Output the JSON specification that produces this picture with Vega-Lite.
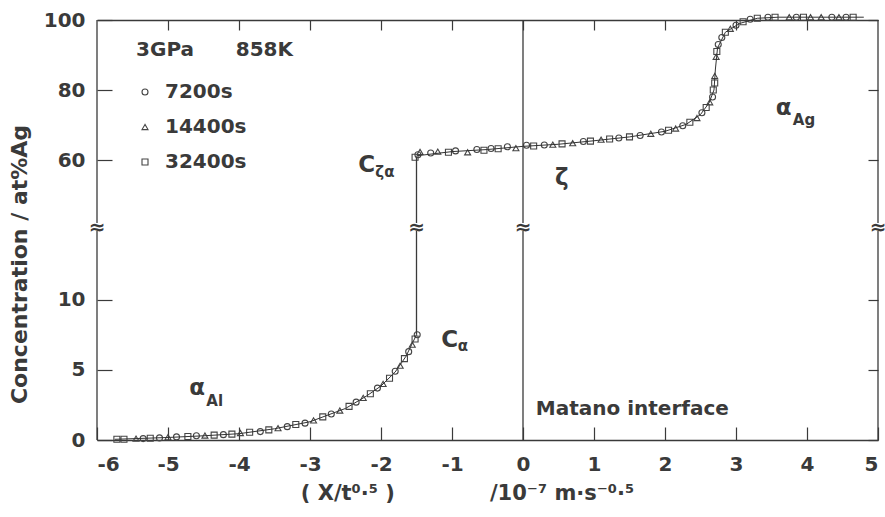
{
  "$schema": "https://vega.github.io/schema/vega-lite/v6.json",
  "width": 781,
  "height": 420,
  "autosize": {"type": "none"},
  "padding": {"left": 97, "top": 20, "right": 7, "bottom": 77},
  "background": "white",
  "config": {
    "view": {"stroke": null},
    "font": "DejaVu Sans",
    "axis": {
      "grid": false,
      "labelFont": "DejaVu Sans",
      "labelFontWeight": "bold",
      "labelFontSize": 20,
      "labelColor": "#3a3a3a",
      "tickColor": "#3a3a3a",
      "domainColor": "#3a3a3a",
      "tickWidth": 1.2,
      "domainWidth": 1.4,
      "titleFont": "DejaVu Sans",
      "titleFontWeight": "bold",
      "titleFontSize": 20,
      "titleColor": "#3a3a3a"
    },
    "legend": {
      "orient": "none",
      "legendX": 38,
      "legendY": 62,
      "labelFont": "DejaVu Sans",
      "labelFontWeight": "bold",
      "labelFontSize": 20,
      "labelColor": "#3a3a3a",
      "rowPadding": 15,
      "symbolSize": 36,
      "symbolStrokeWidth": 1.1,
      "symbolStrokeColor": "#444444",
      "symbolFillColor": "transparent",
      "labelOffset": 10
    }
  },
  "datasets": {
    "rules": [
      {"x": -6, "c": 0, "c2": 14.9},
      {"x": -6, "c": 42, "c2": 100},
      {"x": 5, "c": 0, "c2": 14.9},
      {"x": 5, "c": 42, "c2": 100},
      {"x": 0, "c": 0, "c2": 14.9},
      {"x": 0, "c": 42, "c2": 100},
      {"x": -1.5, "c": 7.5, "c2": 14.9},
      {"x": -1.5, "c": 42, "c2": 61}
    ],
    "breaks": [
      {"x": -6, "c": 28.45},
      {"x": -1.5, "c": 28.45},
      {"x": 0, "c": 28.45},
      {"x": 5, "c": 28.45}
    ],
    "curve": [
      {"x": -5.75, "c": 0.05, "seg": "a"},
      {"x": -5.0, "c": 0.18, "seg": "a"},
      {"x": -4.5, "c": 0.3, "seg": "a"},
      {"x": -4.0, "c": 0.45, "seg": "a"},
      {"x": -3.5, "c": 0.8, "seg": "a"},
      {"x": -3.0, "c": 1.3, "seg": "a"},
      {"x": -2.5, "c": 2.25, "seg": "a"},
      {"x": -2.2, "c": 3.15, "seg": "a"},
      {"x": -2.0, "c": 3.85, "seg": "a"},
      {"x": -1.8, "c": 4.85, "seg": "a"},
      {"x": -1.65, "c": 5.95, "seg": "a"},
      {"x": -1.5, "c": 7.5, "seg": "a"},
      {"x": -1.5, "c": 61.2, "seg": "b"},
      {"x": -1.0, "c": 62.4, "seg": "b"},
      {"x": -0.5, "c": 63.0, "seg": "b"},
      {"x": 0.0, "c": 63.9, "seg": "b"},
      {"x": 0.5, "c": 64.5, "seg": "b"},
      {"x": 1.0, "c": 65.5, "seg": "b"},
      {"x": 1.5, "c": 66.6, "seg": "b"},
      {"x": 2.0, "c": 68.2, "seg": "b"},
      {"x": 2.3, "c": 70.2, "seg": "b"},
      {"x": 2.5, "c": 73.0, "seg": "b"},
      {"x": 2.62, "c": 76.3, "seg": "b"},
      {"x": 2.69, "c": 80.0, "seg": "b"},
      {"x": 2.71, "c": 86.0, "seg": "b"},
      {"x": 2.74, "c": 92.0, "seg": "b"},
      {"x": 2.85, "c": 96.5, "seg": "b"},
      {"x": 3.05, "c": 99.0, "seg": "b"},
      {"x": 3.3, "c": 100.5, "seg": "b"},
      {"x": 3.6, "c": 100.8, "seg": "b"},
      {"x": 4.8, "c": 100.8, "seg": "b"}
    ],
    "points": [
      {"x": -5.72, "c": 0.05, "series": "32400s"},
      {"x": -5.62, "c": 0.05, "series": "32400s"},
      {"x": -5.45, "c": 0.1, "series": "14400s"},
      {"x": -5.35, "c": 0.1, "series": "7200s"},
      {"x": -5.25, "c": 0.12, "series": "32400s"},
      {"x": -5.12, "c": 0.15, "series": "7200s"},
      {"x": -5.0, "c": 0.2, "series": "14400s"},
      {"x": -4.88, "c": 0.22, "series": "7200s"},
      {"x": -4.72, "c": 0.25, "series": "32400s"},
      {"x": -4.6, "c": 0.3, "series": "7200s"},
      {"x": -4.48, "c": 0.32, "series": "14400s"},
      {"x": -4.35, "c": 0.35, "series": "32400s"},
      {"x": -4.22, "c": 0.38, "series": "7200s"},
      {"x": -4.1, "c": 0.42, "series": "32400s"},
      {"x": -3.98, "c": 0.5, "series": "14400s"},
      {"x": -3.85, "c": 0.55, "series": "32400s"},
      {"x": -3.7, "c": 0.6, "series": "7200s"},
      {"x": -3.58, "c": 0.72, "series": "32400s"},
      {"x": -3.45, "c": 0.85, "series": "14400s"},
      {"x": -3.32, "c": 0.95, "series": "7200s"},
      {"x": -3.2, "c": 1.1, "series": "32400s"},
      {"x": -3.07, "c": 1.2, "series": "7200s"},
      {"x": -2.95, "c": 1.4, "series": "14400s"},
      {"x": -2.82, "c": 1.65, "series": "32400s"},
      {"x": -2.7, "c": 1.85, "series": "7200s"},
      {"x": -2.58, "c": 2.1, "series": "14400s"},
      {"x": -2.45, "c": 2.4, "series": "32400s"},
      {"x": -2.35, "c": 2.7, "series": "7200s"},
      {"x": -2.25, "c": 3.0, "series": "14400s"},
      {"x": -2.15, "c": 3.3, "series": "32400s"},
      {"x": -2.05, "c": 3.7, "series": "7200s"},
      {"x": -1.97, "c": 4.0, "series": "14400s"},
      {"x": -1.88, "c": 4.4, "series": "32400s"},
      {"x": -1.8, "c": 4.9, "series": "7200s"},
      {"x": -1.73, "c": 5.3, "series": "14400s"},
      {"x": -1.67, "c": 5.8, "series": "32400s"},
      {"x": -1.61, "c": 6.3, "series": "7200s"},
      {"x": -1.56, "c": 6.8, "series": "14400s"},
      {"x": -1.52, "c": 7.2, "series": "32400s"},
      {"x": -1.49, "c": 7.5, "series": "7200s"},
      {"x": -1.52, "c": 60.8, "series": "32400s"},
      {"x": -1.48, "c": 61.5, "series": "7200s"},
      {"x": -1.45, "c": 62.3, "series": "14400s"},
      {"x": -1.3, "c": 62.0, "series": "7200s"},
      {"x": -1.2, "c": 62.4, "series": "14400s"},
      {"x": -1.05, "c": 62.2, "series": "32400s"},
      {"x": -0.95, "c": 62.6, "series": "7200s"},
      {"x": -0.78, "c": 62.2, "series": "14400s"},
      {"x": -0.65, "c": 63.0, "series": "7200s"},
      {"x": -0.55, "c": 62.8, "series": "32400s"},
      {"x": -0.45, "c": 63.3, "series": "7200s"},
      {"x": -0.35, "c": 63.2, "series": "32400s"},
      {"x": -0.22, "c": 63.8, "series": "7200s"},
      {"x": -0.1, "c": 63.4, "series": "14400s"},
      {"x": 0.05, "c": 64.2, "series": "7200s"},
      {"x": 0.15, "c": 64.0, "series": "32400s"},
      {"x": 0.3, "c": 64.3, "series": "7200s"},
      {"x": 0.42, "c": 64.4, "series": "14400s"},
      {"x": 0.55, "c": 64.6, "series": "32400s"},
      {"x": 0.7, "c": 64.8, "series": "14400s"},
      {"x": 0.85, "c": 65.3, "series": "7200s"},
      {"x": 0.95, "c": 65.4, "series": "32400s"},
      {"x": 1.1, "c": 65.8, "series": "14400s"},
      {"x": 1.22, "c": 66.0, "series": "32400s"},
      {"x": 1.35, "c": 66.3, "series": "7200s"},
      {"x": 1.5, "c": 66.6, "series": "32400s"},
      {"x": 1.65, "c": 67.0, "series": "7200s"},
      {"x": 1.8, "c": 67.5, "series": "14400s"},
      {"x": 1.95, "c": 68.0, "series": "7200s"},
      {"x": 2.05, "c": 68.5, "series": "32400s"},
      {"x": 2.15, "c": 69.0, "series": "14400s"},
      {"x": 2.25, "c": 69.8, "series": "7200s"},
      {"x": 2.35, "c": 70.8, "series": "32400s"},
      {"x": 2.45, "c": 72.0, "series": "14400s"},
      {"x": 2.52, "c": 73.5, "series": "7200s"},
      {"x": 2.58, "c": 75.0, "series": "32400s"},
      {"x": 2.63, "c": 76.5, "series": "14400s"},
      {"x": 2.67, "c": 78.0, "series": "7200s"},
      {"x": 2.68, "c": 80.0, "series": "32400s"},
      {"x": 2.7, "c": 82.0, "series": "32400s"},
      {"x": 2.7, "c": 84.0, "series": "14400s"},
      {"x": 2.72, "c": 89.5, "series": "14400s"},
      {"x": 2.73, "c": 91.0, "series": "32400s"},
      {"x": 2.75, "c": 93.0, "series": "7200s"},
      {"x": 2.8, "c": 95.0, "series": "7200s"},
      {"x": 2.85, "c": 96.5, "series": "32400s"},
      {"x": 2.92, "c": 97.5, "series": "14400s"},
      {"x": 3.0, "c": 98.5, "series": "7200s"},
      {"x": 3.1, "c": 99.5, "series": "32400s"},
      {"x": 3.2, "c": 100.2, "series": "7200s"},
      {"x": 3.3, "c": 100.5, "series": "32400s"},
      {"x": 3.45, "c": 100.8, "series": "7200s"},
      {"x": 3.55, "c": 100.8, "series": "32400s"},
      {"x": 3.75, "c": 100.8, "series": "14400s"},
      {"x": 3.85, "c": 100.8, "series": "7200s"},
      {"x": 3.95, "c": 100.8, "series": "32400s"},
      {"x": 4.05, "c": 100.8, "series": "14400s"},
      {"x": 4.2, "c": 100.8, "series": "14400s"},
      {"x": 4.35, "c": 100.8, "series": "7200s"},
      {"x": 4.45, "c": 100.8, "series": "14400s"},
      {"x": 4.55, "c": 100.8, "series": "7200s"},
      {"x": 4.65, "c": 100.8, "series": "32400s"}
    ],
    "words": [
      {"x": -5.45, "c": 91.4, "label": "3GPa\u00a0\u00a0\u00a0\u00a0\u00a0\u00a0858K"},
      {"x": 0.18, "c": 2.2, "label": "Matano interface"}
    ],
    "letters": [
      {"x": -2.32, "c": 58.6, "label": "C"},
      {"x": -1.15, "c": 7.1, "label": "C"},
      {"x": 0.45, "c": 54.9, "label": "ζ"},
      {"x": 3.56, "c": 74.9, "label": "α"},
      {"x": -4.7, "c": 3.7, "label": "α"}
    ],
    "subs": [
      {"x": -2.08, "c": 56.6, "label": "ζα"},
      {"x": -0.92, "c": 6.7, "label": "α"},
      {"x": 3.8, "c": 71.4, "label": "Ag"},
      {"x": -4.46, "c": 2.8, "label": "Al"}
    ]
  },
  "resolve": {"axis": {"x": "independent", "y": "independent"}},
  "layer": [
    {
      "data": {"name": "points"},
      "mark": {"type": "point", "filled": false, "size": 36, "strokeWidth": 1.1, "color": "#444444", "opacity": 1},
      "encoding": {
        "x": {"field": "x", "type": "quantitative",
          "scale": {"domain": [-6, 5], "nice": false, "zero": false},
          "axis": {"orient": "bottom", "values": [-6, -5, -4, -3, -2, -1, 0, 1, 2, 3, 4, 5], "tickSize": -13, "labelPadding": 27,
            "labelExpr": "replace(datum.label, '−', '-')",
            "title": "(\u00a0X/t⁰·⁵\u00a0)\u00a0\u00a0\u00a0\u00a0\u00a0\u00a0\u00a0\u00a0\u00a0\u00a0\u00a0\u00a0\u00a0/10⁻⁷\u00a0m·s⁻⁰·⁵", "titlePadding": 8, "titleX": 370, "titleFontSize": 21}},
        "y": {"field": "c", "type": "quantitative",
          "scale": {"domain": [0, 14.9, 42, 100], "range": [420, 211, 203, 0], "nice": false, "zero": false},
          "axis": {"orient": "left", "values": [0, 5, 10, 60, 80, 100], "tickSize": -15, "domain": false, "labelPadding": 27,
            "title": "Concentration / at%Ag", "titlePadding": 12, "titleFontSize": 22, "titleY": 244}},
        "shape": {"field": "series", "type": "nominal",
          "scale": {"domain": ["7200s", "14400s", "32400s"], "range": ["circle", "triangle-up", "square"]},
          "legend": {"title": null}}
      }
    },
    {
      "data": {"name": "curve"},
      "mark": {"type": "line", "color": "#333333", "strokeWidth": 1},
      "encoding": {
        "x": {"field": "x", "type": "quantitative", "scale": {"domain": [-6, 5], "nice": false, "zero": false}, "axis": null},
        "y": {"field": "c", "type": "quantitative", "scale": {"domain": [0, 14.9, 42, 100], "range": [420, 211, 203, 0], "nice": false, "zero": false}, "axis": null},
        "detail": {"field": "seg", "type": "nominal"}
      }
    },
    {
      "data": {"name": "rules"},
      "mark": {"type": "rule", "color": "#3a3a3a", "strokeWidth": 1.3},
      "encoding": {
        "x": {"field": "x", "type": "quantitative", "scale": {"domain": [-6, 5], "nice": false, "zero": false},
          "axis": {"orient": "top", "values": [-5, -4, -3, -2, -1, 0, 1, 2, 3, 4], "tickSize": -10, "labels": false, "title": null, "domain": true}},
        "y": {"field": "c", "type": "quantitative", "scale": {"domain": [0, 14.9, 42, 100], "range": [420, 211, 203, 0], "nice": false, "zero": false},
          "axis": {"orient": "right", "values": [0, 5, 10, 60, 80, 100], "tickSize": -10, "labels": false, "title": null, "domain": false}},
        "y2": {"field": "c2"}
      }
    },
    {
      "data": {"name": "breaks"},
      "mark": {"type": "text", "text": "≈", "fontSize": 20, "fontWeight": "bold", "color": "#3a3a3a", "baseline": "middle", "align": "center", "dy": 1},
      "encoding": {
        "x": {"field": "x", "type": "quantitative", "scale": {"domain": [-6, 5], "nice": false, "zero": false}, "axis": null},
        "y": {"field": "c", "type": "quantitative", "scale": {"domain": [0, 14.9, 42, 100], "range": [420, 211, 203, 0], "nice": false, "zero": false}, "axis": null}
      }
    },
    {
      "data": {"name": "words"},
      "mark": {"type": "text", "fontSize": 20, "fontWeight": "bold", "color": "#3a3a3a", "baseline": "middle", "align": "left"},
      "encoding": {
        "x": {"field": "x", "type": "quantitative", "scale": {"domain": [-6, 5], "nice": false, "zero": false}, "axis": null},
        "y": {"field": "c", "type": "quantitative", "scale": {"domain": [0, 14.9, 42, 100], "range": [420, 211, 203, 0], "nice": false, "zero": false}, "axis": null},
        "text": {"field": "label"}
      }
    },
    {
      "data": {"name": "letters"},
      "mark": {"type": "text", "fontSize": 23, "fontWeight": "bold", "color": "#3a3a3a", "baseline": "middle", "align": "left"},
      "encoding": {
        "x": {"field": "x", "type": "quantitative", "scale": {"domain": [-6, 5], "nice": false, "zero": false}, "axis": null},
        "y": {"field": "c", "type": "quantitative", "scale": {"domain": [0, 14.9, 42, 100], "range": [420, 211, 203, 0], "nice": false, "zero": false}, "axis": null},
        "text": {"field": "label"}
      }
    },
    {
      "data": {"name": "subs"},
      "mark": {"type": "text", "fontSize": 15, "fontWeight": "bold", "color": "#3a3a3a", "baseline": "middle", "align": "left"},
      "encoding": {
        "x": {"field": "x", "type": "quantitative", "scale": {"domain": [-6, 5], "nice": false, "zero": false}, "axis": null},
        "y": {"field": "c", "type": "quantitative", "scale": {"domain": [0, 14.9, 42, 100], "range": [420, 211, 203, 0], "nice": false, "zero": false}, "axis": null},
        "text": {"field": "label"}
      }
    }
  ]
}
